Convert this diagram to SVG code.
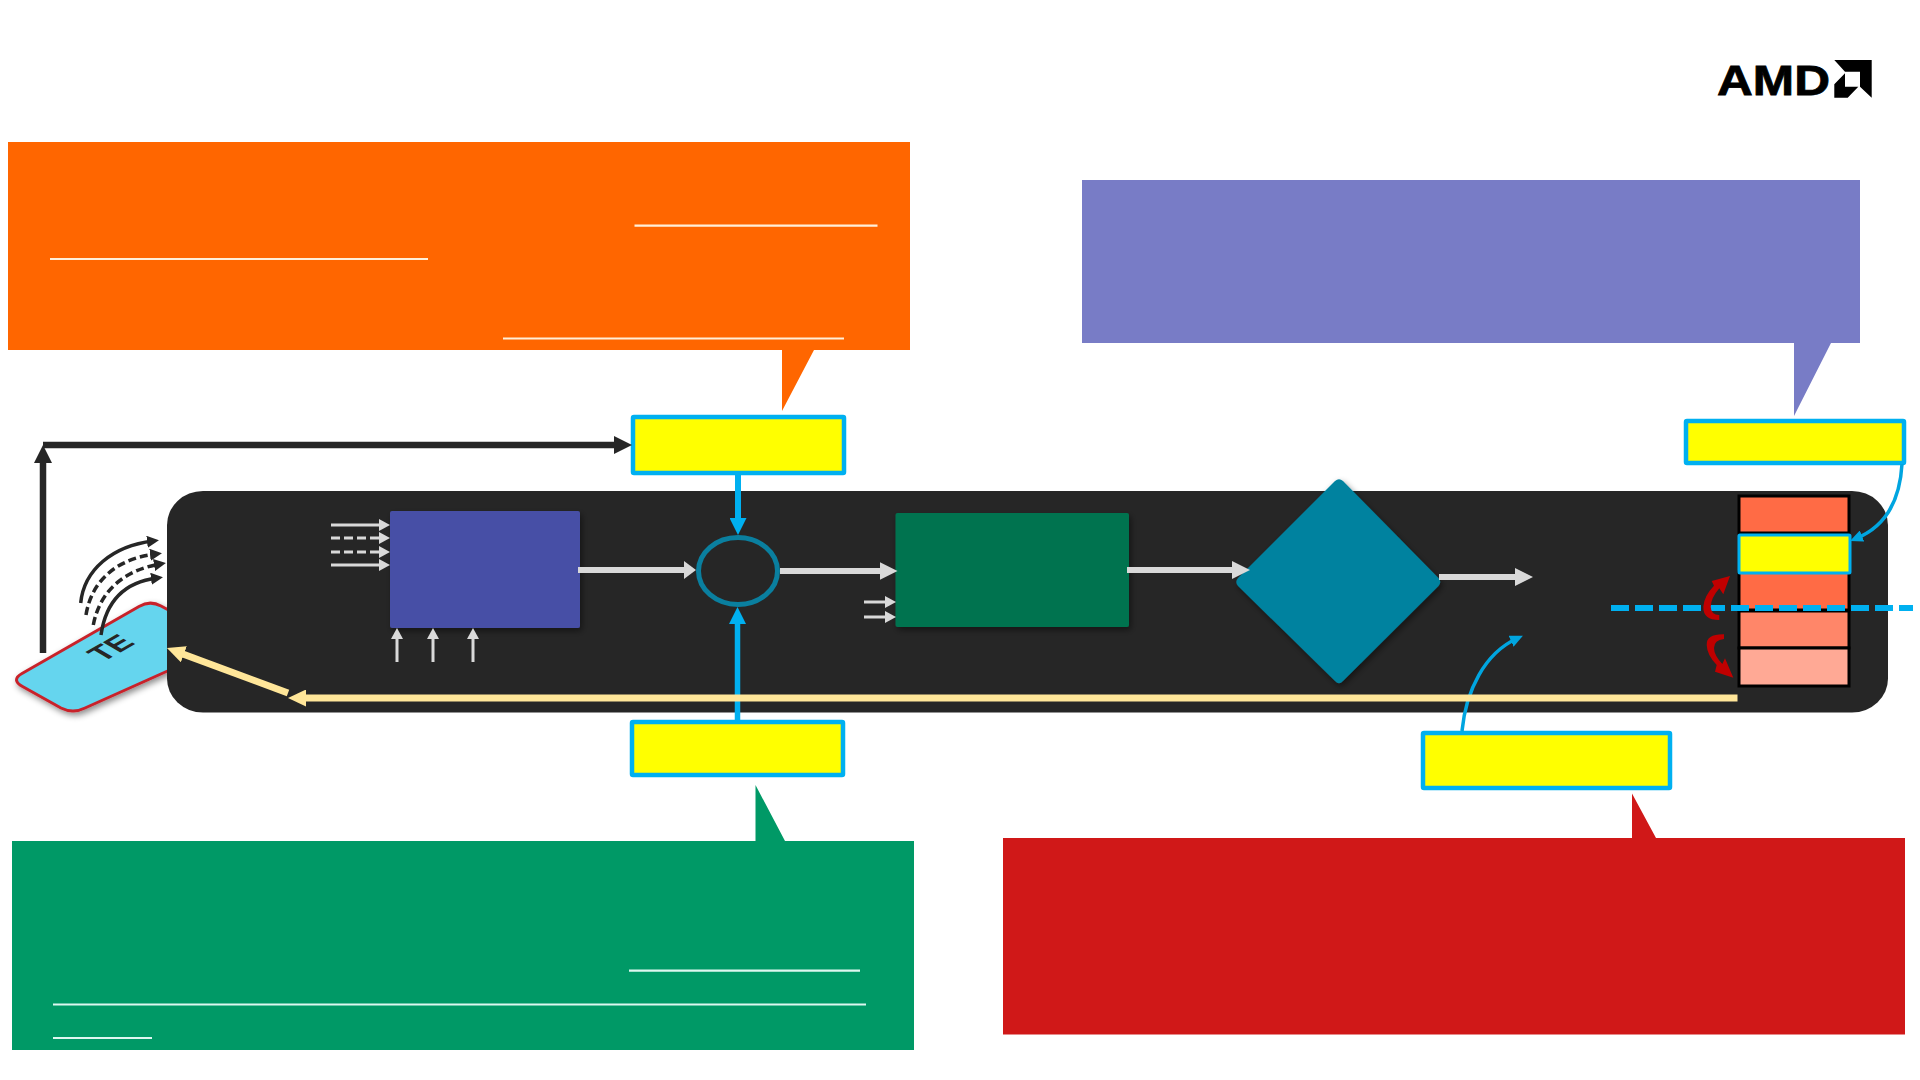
<svg xmlns="http://www.w3.org/2000/svg" width="1920" height="1080" viewBox="0 0 1920 1080">
<style>
.lbl{fill:#ff0;stroke:#00B0F0;stroke-width:4.500}
.ul{stroke-width:2.200;fill:none}
.k{fill:none;stroke:#262626}
.g{fill:none;stroke:#D9D9D9}
.b{fill:none;stroke:#00B0F0}
.y{fill:none;stroke:#FFE699;stroke-width:7}
.cell{stroke:#000;stroke-width:3}
</style>
<defs>
<filter id="sh" x="-10%" y="-10%" width="125%" height="125%"><feDropShadow dx="2" dy="3" stdDeviation="3" flood-color="#000" flood-opacity=".45"/></filter>
<marker id="mK" viewBox="0 0 10 10" refX="5" refY="5" markerUnits="userSpaceOnUse" markerWidth="18" markerHeight="18" orient="auto" preserveAspectRatio="none"><path d="M0 0L10 5L0 10Z" fill="#262626"/></marker>
<marker id="mT" viewBox="0 0 10 10" refX="5" refY="5" markerUnits="userSpaceOnUse" markerWidth="12" markerHeight="12" orient="auto" preserveAspectRatio="none"><path d="M0 0L10 5L0 10Z" fill="#262626"/></marker>
<marker id="mG" viewBox="0 0 10 10" refX="5" refY="5" markerUnits="userSpaceOnUse" markerWidth="18" markerHeight="18" orient="auto" preserveAspectRatio="none"><path d="M0 0L10 5L0 10Z" fill="#D9D9D9"/></marker>
<marker id="mGm" viewBox="0 0 10 10" refX="5" refY="5" markerUnits="userSpaceOnUse" markerWidth="12" markerHeight="18" orient="auto" preserveAspectRatio="none"><path d="M0 0L10 5L0 10Z" fill="#D9D9D9"/></marker>
<marker id="mGs" viewBox="0 0 10 10" refX="5" refY="5" markerUnits="userSpaceOnUse" markerWidth="11" markerHeight="12" orient="auto" preserveAspectRatio="none"><path d="M0 0L10 5L0 10Z" fill="#D9D9D9"/></marker>
<marker id="mB" viewBox="0 0 10 10" refX="5" refY="5" markerUnits="userSpaceOnUse" markerWidth="17" markerHeight="17" orient="auto" preserveAspectRatio="none"><path d="M0 0L10 5L0 10Z" fill="#00B0F0"/></marker>
<marker id="mBs" viewBox="0 0 10 10" refX="5" refY="5" markerUnits="userSpaceOnUse" markerWidth="13" markerHeight="12" orient="auto" preserveAspectRatio="none"><path d="M0 0L10 5L0 10Z" fill="#00A5E0"/></marker>
<marker id="mY" viewBox="0 0 10 10" refX="5" refY="5" markerUnits="userSpaceOnUse" markerWidth="18" markerHeight="17" orient="auto" preserveAspectRatio="none"><path d="M0 0L10 5L0 10Z" fill="#FFE699"/></marker>
</defs>
<rect width="1920" height="1080" fill="#fff"/>

<g id="amd-logo">
<text x="1717" y="94.500" font-family="'Liberation Sans',Arial,sans-serif" font-weight="700" font-size="43" textLength="113" lengthAdjust="spacingAndGlyphs" fill="#000" stroke="#000" stroke-width=".8">AMD</text>
<path d="M1834.300 60H1871.700V97.700L1860 86.700V71.700H1845Z" fill="#000"/>
<path d="M1834.300 84.300L1845 73.300V86.700H1858.300L1847.700 97.700H1834.300Z" fill="#000"/>
</g>

<g id="callout-orange">
<path d="M8 142H910V350H814L782 411V350H8Z" fill="#FF6600"/>
<path class="ul" stroke="#FFEFD9" d="M634.500 225.700H877.500M50 259H428M503 338.500H844"/>
</g>
<g id="callout-purple"><path d="M1082 180H1860V343H1831L1794 416V343H1082Z" fill="#787CC6"/></g>
<g id="callout-green">
<path d="M12 841H755.500V785L785 841H914V1050H12Z" fill="#009966"/>
<path class="ul" stroke="#DDF7F0" d="M629 970.700H860M53 1004.500H866M53 1038H152"/>
</g>
<g id="callout-red"><path d="M1003 838H1632V793.500L1656 838H1905V1034.500H1003Z" fill="#D01818"/></g>

<g id="te">
<path d="M22 673.500L139 606.500Q150 600 161 606L230 643L85 708Q73 714 61 708L23 686.800Q10.500 680 22 673.500Z" fill="#65D5EE" stroke="#C8232C" stroke-width="3" filter="url(#sh)"/>
<text transform="matrix(.87 -.5 .85 .5 111 648)" y="10" text-anchor="middle" font-family="'Liberation Sans',Arial,sans-serif" font-weight="700" font-size="30" fill="#262626">TE</text>
</g>

<g id="panel"><rect x="167" y="491" width="1721" height="221.500" rx="36" ry="34" fill="#262626"/></g>

<g id="block-blue"><rect x="390" y="511" width="190" height="117" rx="2" fill="#4650A6" filter="url(#sh)"/></g>
<g id="block-green"><rect x="895.500" y="513" width="233.500" height="114" rx="2" fill="#03734F" filter="url(#sh)"/></g>
<g id="adder"><ellipse cx="738" cy="571" rx="39.500" ry="33.500" fill="none" stroke="#0A7F9F" stroke-width="5"/></g>
<g id="decision"><path d="M1335 481Q1339 477.500 1343 481L1438.500 578Q1442 582 1438.500 586L1343 681Q1339 685.500 1335 681L1238 586Q1234.500 582 1238 578Z" fill="#00829F" filter="url(#sh)"/></g>

<g id="label-top"><rect class="lbl" x="633" y="417" width="211" height="56" rx="1"/></g>
<g id="label-bottom"><rect class="lbl" x="632" y="722" width="211" height="53" rx="1"/></g>
<g id="label-right"><rect class="lbl" x="1686" y="421" width="218" height="42" rx="1"/></g>
<g id="label-lower-right"><rect class="lbl" x="1423" y="733" width="247" height="55" rx="1"/></g>

<g id="stack">
<rect x="1738" y="495" width="112" height="191" fill="#000"/>
<rect class="cell" x="1739" y="496" width="110" height="37" fill="#FF6B45"/>
<rect class="cell" x="1739" y="572" width="110" height="38" fill="#FF6B45"/>
<rect class="cell" x="1739" y="611" width="110" height="37" fill="#FF8669"/>
<rect class="cell" x="1739" y="648" width="110" height="38" fill="#FFA995"/>
<rect x="1739" y="535" width="111" height="38" fill="#ff0" stroke="#00B0F0" stroke-width="3" rx="1"/>
</g>

<g id="connectors">
<path class="k" stroke-width="6.500" marker-end="url(#mK)" d="M43 653V454"/>
<path class="k" stroke-width="6.500" marker-end="url(#mK)" d="M43 445H623"/>

<path class="k" stroke-width="3.500" marker-end="url(#mT)" d="M80.700 603C84 570 112 546 153 541"/>
<path class="k" stroke-width="3.500" stroke-dasharray="8 4" marker-end="url(#mT)" d="M86 615C92 578 120 558 156 554"/>
<path class="k" stroke-width="3.500" stroke-dasharray="8 4" marker-end="url(#mT)" d="M93.300 625C100 590 125 570 160 564"/>
<path class="k" stroke-width="3.500" marker-end="url(#mT)" d="M101 635C106 600 125 582 157 578"/>

<g stroke-width="3">
<path class="g" marker-end="url(#mGs)" d="M331 525H384.500"/>
<path class="g" stroke-dasharray="9 4" marker-end="url(#mGs)" d="M331 538H384.500"/>
<path class="g" stroke-dasharray="9 4" marker-end="url(#mGs)" d="M331 552H384.500"/>
<path class="g" marker-end="url(#mGs)" d="M331 565H384.500"/>
<path class="g" marker-end="url(#mGs)" d="M397 662V633.500"/>
<path class="g" marker-end="url(#mGs)" d="M433 662V633.500"/>
<path class="g" marker-end="url(#mGs)" d="M473 662V633.500"/>
<path class="g" marker-end="url(#mGs)" d="M864 602H890.500"/>
<path class="g" marker-end="url(#mGs)" d="M864 617H890.500"/>
</g>
<g stroke-width="6">
<path class="g" marker-end="url(#mGm)" d="M578 570H690"/>
<path class="g" marker-end="url(#mG)" d="M780 571H888.500"/>
<path class="g" marker-end="url(#mG)" d="M1127 570H1241"/>
<path class="g" marker-end="url(#mG)" d="M1439 577H1524"/>
</g>

<path class="b" stroke-width="6" marker-end="url(#mB)" d="M738 475V526.500"/>
<path class="b" stroke-width="5.500" marker-end="url(#mB)" d="M737.500 720V615.500"/>
<path class="b" stroke-width="3.500" style="stroke:#00A5E0" marker-end="url(#mBs)" d="M1902 464C1900 500 1887 526 1856 538.500"/>
<path class="b" stroke-width="3.500" style="stroke:#00A5E0" marker-end="url(#mBs)" d="M1462 731C1466 690 1485 653 1517 638.500"/>

<path class="y" marker-end="url(#mY)" d="M288 693L175.400 651.200"/>
<path class="y" marker-end="url(#mY)" d="M1737.500 698H297"/>

<path class="b" stroke-width="6" stroke-dasharray="18 6" d="M1611 608H1913"/>

<path fill="#C00000" d="M1719.300 620Q1703 620 1703.300 606.700Q1704 596 1714 585.700L1711.700 581L1730 576L1723.300 594.300L1719.300 588.300Q1711 598 1710.700 606.700Q1711 615 1719.300 615Z"/>
<path fill="#C00000" d="M1724 634.300Q1706 634 1706.700 645Q1707 655 1716.700 665L1715 671.700L1733.300 677.700L1725 658.300L1722.300 664Q1714 655 1714 648Q1714 640 1724 639Z"/>
</g>
</svg>
